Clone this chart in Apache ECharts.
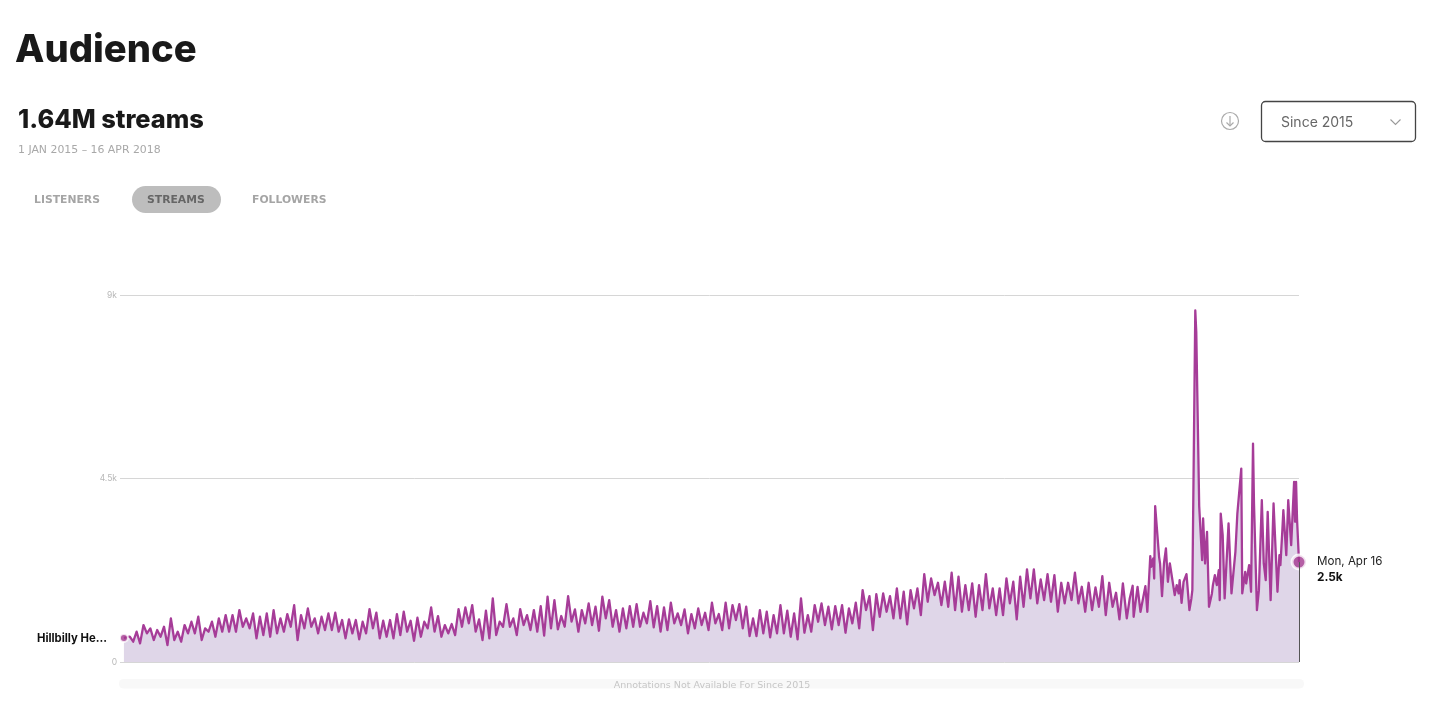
<!DOCTYPE html>
<html>
<head>
<meta charset="utf-8">
<style>html,body{margin:0;padding:0;background:#fff}#c{width:1434px;height:702px}</style>
<script src="https://cdn.jsdelivr.net/npm/echarts@6/dist/echarts.min.js"></script>
</head>
<body>
<div id="c"></div>
<script>
// Weekly highs and lows (streams per day), 2015 - early 2018
const weeklyHighs = [
620,743,906,825,784,865,1070,743,906,988,1110,825,988,1070,1151,1151,1274,1070,1192,1110,1192,1274,1070,1176,1396,1151,1315,1070,1110,
1192,1208,1029,1045,1029,988,1298,1208,1012,1029,1176,1233,1012,1086,988,1339,1127,906,931,1298,1339,1396,1045,1257,1560,988,1421,1070,1298,
1151,1274,1372,1601,1519,1127,1617,1290,1274,1437,1356,1601,1519,1274,1315,1372,1421,1208,1494,1372,1339,1454,1192,1290,1176,1315,1208,1454,1176,
1454,1396,1421,1356,1070,1274,1233,1151,1396,1257,1192,1560,1151,1396,1437,1356,1372,1396,1315,1454,1764,1617,1666,1682,1617,1805,1723,1764,1805,
2156,2050,1943,1968,2189,2091,1886,1927,1886,2156,1805,1805,2050,1968,2091,2270,2270,2025,2156,2131,1943,1943,2189,1845,1943,1829,2107,1943,1698
];
const weeklyLows = [
498,457,702,539,620,416,539,498,702,702,539,743,620,743,743,743,865,825,580,660,620,702,743,865,539,825,865,702,784,
784,743,580,702,555,702,825,580,620,580,661,743,522,620,825,743,620,702,661,865,947,743,539,580,661,865,865,661,906,
784,743,645,825,800,865,988,743,947,906,767,1070,865,743,825,865,865,947,849,743,784,947,906,702,825,906,784,947,784,
825,1029,825,637,637,702,604,702,702,620,555,718,743,988,906,800,906,718,947,825,1274,784,1110,1233,1070,1070,923,1315,1151,
1478,1641,1396,1355,1274,1233,1274,1110,1274,1314,1151,1151,1437,1045,1355,1559,1437,1519,1478,1233,1437,1519,1437,1233,1274,1355,1151,1355,1045
];
// Daily readings for the volatile final months (days since 1 Jan 2015)
const lateDays = [1021,1025,1028,1031,1032,1036,1039,1044,1046,1049,1050,1052,1053,1054,1056,1058,1059,1061,1063,1065,1067,1069,1071,1074,1076,1078,1079,1081,1083,1086,1089,1091,1092,1095,1096,1099,1101,1102,1103,1105,1107,1109,1112,1113,1115,1117,1119,1120,1121,1123,1125,1127,1129,1130,1132,1136,1137,1138,1142,1143,1146,1147,1150,1152,1154,1155,1158,1160,1163,1165,1167,1169,1172,1175,1179,1181,1182,1184,1185,1188,1190,1193,1196,1197,1198,1199,1201];
const lateStreams = [1926,1068,1558,1869,1109,1844,1231,1860,1231,2596,2334,2539,2048,3821,3805,2579,2416,1615,2416,2784,1967,2416,2375,1640,1885,1681,2008,1452,1967,2155,1272,1558,1764,8620,8100,3821,3789,2498,3519,2416,3192,1354,1681,1885,2130,1885,2253,1517,3641,3110,1558,1558,3396,3356,1681,2702,2743,3641,4744,1681,2212,1926,2375,1722,5357,3887,1272,1762,3968,2416,2008,3682,1517,3887,1722,2620,2375,3233,3723,2620,3968,2865,4418,3437,4418,3500,2450];
const firstPoint = [0, 590];
const yTicks = {0: '0', 4500: '4.5k', 9000: '9k'};
const songLabel = 'Hillbilly He...';
const lastDateLabel = 'Mon, Apr 16';
const lastValueLabel = '2.5k';
const tabs = ['LISTENERS', 'STREAMS', 'FOLLOWERS'];

const line = [firstPoint];
weeklyHighs.forEach((h, k) => {
  line.push([6 + 7 * k, h]);
  line.push([9.5 + 7 * k, weeklyLows[k]]);
});
lateDays.forEach((d, i) => line.push([d, lateStreams[i]]));
const lastPoint = line[line.length - 1];

const FONT = 'Inter, "Noto Sans", sans-serif';
const WIDE = '"DejaVu Sans", sans-serif';
const txt = (x, y, text, size, weight, fill, align, family) => ({
  type: 'text', x, y, silent: true,
  style: {text, font: `${weight} ${size}px ${family || FONT}`, fill, align: align || 'left', verticalAlign: 'middle'}
});

const chart = echarts.init(document.getElementById('c'), null, {renderer: 'canvas'});
chart.setOption({
  animation: false,
  backgroundColor: '#fff',
  grid: {left: 120, right: 135, top: 295, bottom: 40, containLabel: false},
  xAxis: {type: 'value', min: -4, max: 1201, show: false},
  yAxis: {
    type: 'value', min: 0, max: 9000, interval: 4500,
    axisLine: {show: false}, axisTick: {show: false},
    axisLabel: {color: '#b8b8b8', fontSize: 8.5, fontFamily: FONT, margin: 3, formatter: v => yTicks[v]},
    splitLine: {lineStyle: {color: '#d6d6d6', width: 1}}
  },
  series: [
    {
      type: 'line', data: line, showSymbol: false, smooth: false,
      lineStyle: {color: '#a63c98', width: 2.3, join: 'round'},
      areaStyle: {color: '#dfd6e8', opacity: 1},
      markLine: {
        silent: true, symbol: 'none', label: {show: false},
        lineStyle: {color: '#555', width: 1, type: 'solid'},
        data: [[{coord: [lastPoint[0], lastPoint[1]]}, {coord: [lastPoint[0], 0]}]]
      },
      z: 2
    },
    {
      type: 'scatter', data: [firstPoint], symbolSize: 8,
      itemStyle: {color: '#a2378f', borderColor: '#fff', borderWidth: 2}, z: 4
    },
    {
      type: 'scatter', data: [lastPoint], symbolSize: 14,
      itemStyle: {color: '#a2378f', borderColor: '#fff', borderWidth: 3}, z: 4
    }
  ],
  graphic: [
    txt(15, 50.5, 'Audience', 38.2, 800, '#191919'),
    txt(18, 120, '1.64M streams', 25.4, 800, '#191919'),
    txt(18, 150.5, '1 JAN 2015 – 16 APR 2018', 10.9, 400, '#a8a8a8', 'left', WIDE),
    {type: 'rect', shape: {x: 132, y: 186, width: 89, height: 27, r: 13.5}, style: {fill: '#bdbdbd'}, silent: true},
    txt(34, 200, tabs[0], 10.8, 700, '#a5a5a5', 'left', WIDE),
    txt(147, 200, tabs[1], 10.8, 700, '#666', 'left', WIDE),
    txt(252, 200, tabs[2], 10.8, 700, '#a5a5a5', 'left', WIDE),
    {type: 'circle', shape: {cx: 1230, cy: 121, r: 8.5}, style: {fill: 'none', stroke: '#aaa', lineWidth: 1.2}, silent: true},
    {type: 'polyline', shape: {points: [[1230, 116], [1230, 126]]}, style: {stroke: '#aaa', lineWidth: 1.2, fill: 'none'}, silent: true},
    {type: 'polyline', shape: {points: [[1226.5, 122.5], [1230, 126], [1233.5, 122.5]]}, style: {stroke: '#aaa', lineWidth: 1.2, fill: 'none'}, silent: true},
    {type: 'rect', shape: {x: 1261.5, y: 101.5, width: 154, height: 40, r: 4}, style: {fill: '#fff', stroke: '#444', lineWidth: 1.3}, silent: true},
    txt(1281, 122.5, 'Since 2015', 14, 400, '#666'),
    {type: 'polyline', shape: {points: [[1390.5, 119.5], [1395.5, 124.5], [1400.5, 119.5]]}, style: {stroke: '#999', lineWidth: 1.1, fill: 'none'}, silent: true},
    {type: 'rect', shape: {x: 119, y: 679, width: 1185, height: 9.5, r: 4.5}, style: {fill: '#f8f8f8'}, silent: true},
    txt(712, 685.5, 'Annotations Not Available For Since 2015', 9.5, 400, '#c6c6c6', 'center', WIDE),
    txt(37, 638.5, songLabel, 11.3, 700, '#111'),
    txt(1317, 561.5, lastDateLabel, 11.6, 400, '#222'),
    txt(1317, 577, lastValueLabel, 11.8, 700, '#111')
  ]
});
</script>
</body>
</html>
